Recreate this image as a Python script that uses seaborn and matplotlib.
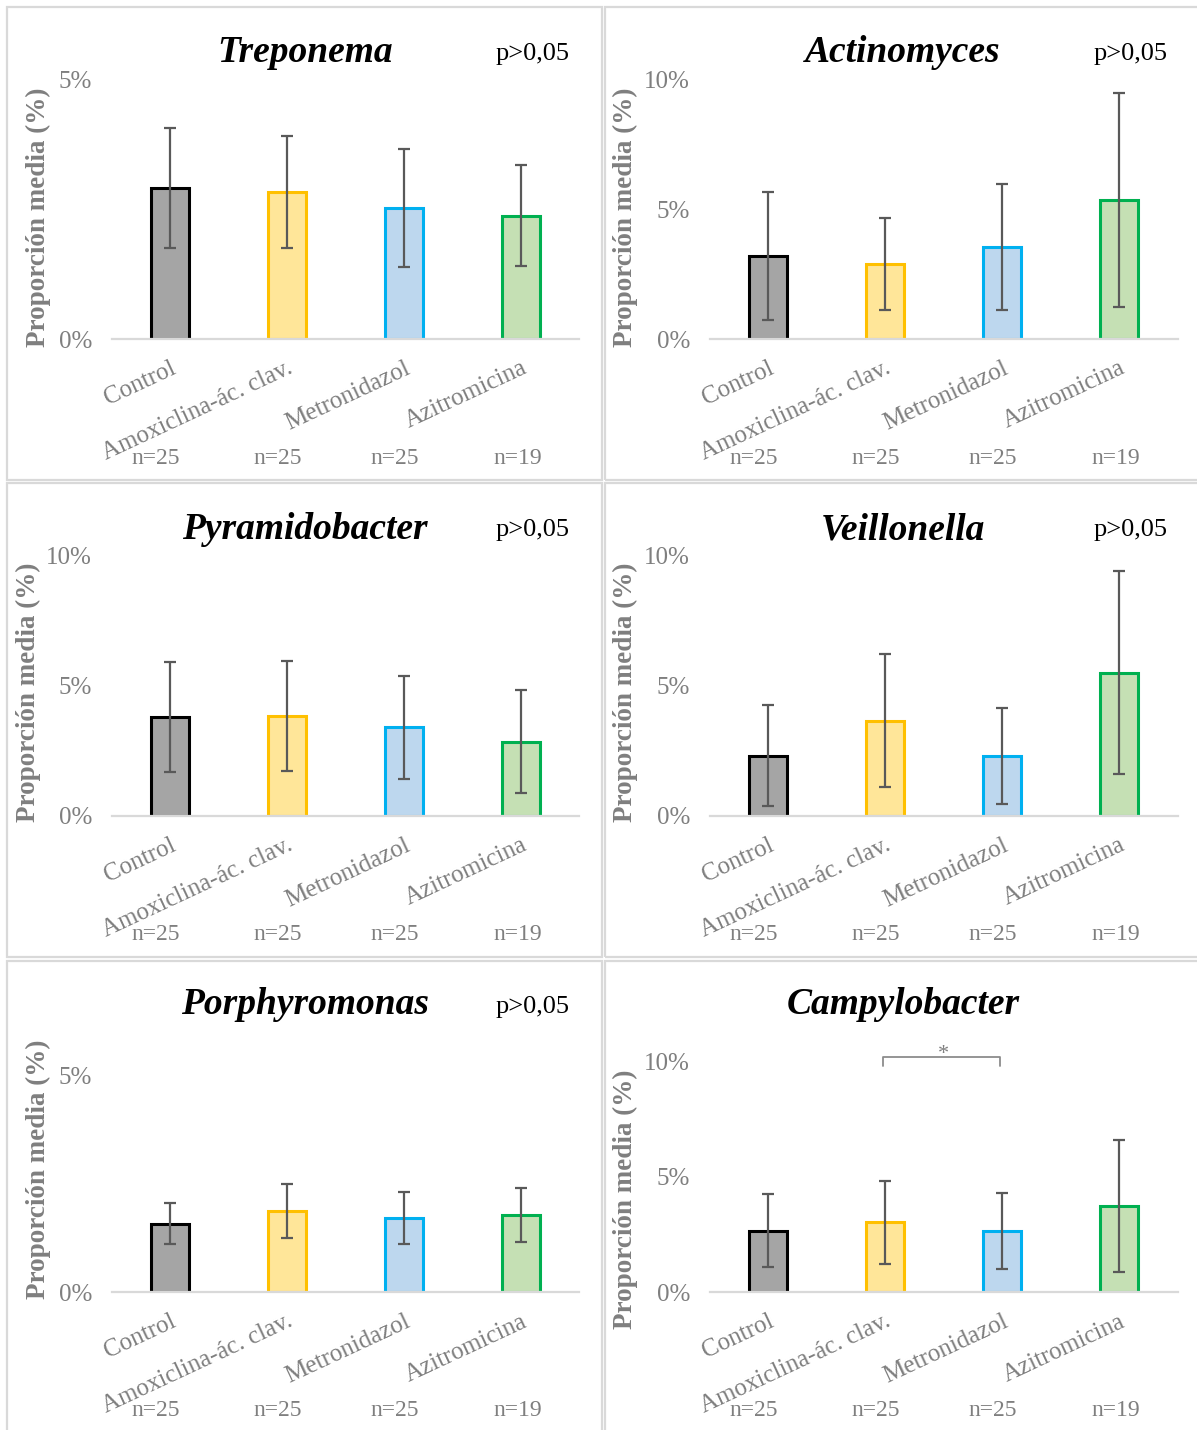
import matplotlib
matplotlib.use("Agg")
import matplotlib.pyplot as plt
import matplotlib.transforms as mtransforms
from matplotlib.patches import Rectangle
from matplotlib.lines import Line2D
import pandas as pd
import seaborn as sns

sns.set_theme(style="white")
plt.rcParams["font.family"] = ["Liberation Serif", "DejaVu Serif"]

# ---- data ---------------------------------------------------------------
groups = ["Control", "Amoxiclina-ác. clav.", "Metronidazol", "Azitromicina"]
n_labels = ["n=25", "n=25", "n=25", "n=19"]
genera = ["Treponema", "Actinomyces", "Pyramidobacter",
          "Veillonella", "Porphyromonas", "Campylobacter"]
p_labels = ["p>0,05", "p>0,05", "p>0,05", "p>0,05", "p>0,05", ""]
y_max = [5, 10, 10, 10, 5, 10]

treponema_mean = [2.90, 2.83, 2.52, 2.37]
treponema_err = [1.15, 1.08, 1.13, 0.97]
actinomyces_mean = [3.19, 2.88, 3.54, 5.35]
actinomyces_err = [2.46, 1.77, 2.42, 4.13]
pyramidobacter_mean = [3.81, 3.85, 3.42, 2.85]
pyramidobacter_err = [2.11, 2.11, 1.98, 1.98]
veillonella_mean = [2.31, 3.67, 2.31, 5.51]
veillonella_err = [1.94, 2.56, 1.85, 3.90]
porphyromonas_mean = [1.59, 1.88, 1.72, 1.78]
porphyromonas_err = [0.48, 0.63, 0.61, 0.62]
campylobacter_mean = [2.67, 3.03, 2.65, 3.72]
campylobacter_err = [1.58, 1.80, 1.63, 2.86]

means = [treponema_mean, actinomyces_mean, pyramidobacter_mean,
         veillonella_mean, porphyromonas_mean, campylobacter_mean]
errors = [treponema_err, actinomyces_err, pyramidobacter_err,
          veillonella_err, porphyromonas_err, campylobacter_err]

# significant pair in Campylobacter (Amoxiclina vs Metronidazol)
sig_pair = (1, 2)

# ---- styling ------------------------------------------------------------
fills = ["#A5A5A5", "#FFE699", "#BDD7EE", "#C5E0B4"]
edges = ["#000000", "#FFC000", "#00B0F0", "#00B050"]
GRAY = "#7F7F7F"
W, H = 1197, 1430

fig = plt.figure(figsize=(W / 100, H / 100), dpi=100)
fig.patch.set_facecolor("white")


def fx(px):
    return px / W


def fy(py):
    return 1 - py / H


# panel frames
col_x = [(6.5, 602), (605, 1199)]
row_y = [(7, 480), (483, 957), (961, 1432)]
for (x0, x1) in col_x:
    for (y0, y1) in row_y:
        fig.patches.append(Rectangle((fx(x0), fy(y1)), (x1 - x0) / W, (y1 - y0) / H,
                                     transform=fig.transFigure, fill=False,
                                     edgecolor="#D9D9D9", linewidth=1.6))

axes_x = [(111.5, 579.5), (709.5, 1177.5)]
axes_y = [(79, 339), (79, 339), (556, 816), (556, 816), (1076, 1292.3), (1061, 1292.3)]
title_x = [305, 903]
title_base = [62, 62, 539, 539, 1014, 1014]
p_x = [533, 1131]
p_base = [60, 60, 536, 536, 1013, 1013]
n_y = [458, 458, 935, 935, 1411, 1411]
n_dx = [-0.12, -0.08, -0.08, -0.03]
ylab_x = [38, 625, 28, 625, 38, 625]
ylab_y = [217, 217, 692, 692, 1169, 1199]

for i, genus in enumerate(genera):
    col, row = i % 2, i // 2
    x0, x1 = axes_x[col]
    top, zero = axes_y[i]
    ax = fig.add_axes([fx(x0), fy(zero), (x1 - x0) / W, (zero - top) / H])
    ax.set_facecolor("none")

    df = pd.DataFrame({"grupo": groups, "valor": means[i]})
    sns.barplot(data=df, x="grupo", y="valor", hue="grupo", palette=fills,
                order=groups, hue_order=groups, width=0.325, linewidth=2.2,
                saturation=1, errorbar=None, legend=False, ax=ax)
    for patch, ec in zip(ax.patches, edges):
        patch.set_edgecolor(ec)
    ax.errorbar(range(len(groups)), means[i], yerr=errors[i], fmt="none",
                ecolor="#595959", elinewidth=1.6, capsize=4.5, capthick=1.6, zorder=5)

    ax.set_xlim(-0.5, 3.5)
    ax.set_ylim(0, y_max[i])
    ticks = list(range(0, y_max[i] + 1, 5))
    ax.set_yticks(ticks)
    ax.set_yticklabels([f"{t}%" for t in ticks])
    ax.set_xticks(range(len(groups)))
    ax.set_xticklabels(groups, rotation=25, ha="right", rotation_mode="anchor")
    ax.tick_params(axis="y", length=0, pad=14, labelsize=18, labelcolor=GRAY)
    ax.tick_params(axis="x", length=0, pad=13, labelsize=18, labelcolor=GRAY)
    ax.set_xlabel("")
    ax.set_ylabel("")
    sns.despine(ax=ax, left=True)
    ax.spines["bottom"].set_color("#D9D9D9")
    ax.spines["bottom"].set_linewidth(1.6)

    ax.text(fx(ylab_x[i]), fy(ylab_y[i]), "Proporción media (%)",
            transform=fig.transFigure, rotation=90, ha="center", va="center",
            fontsize=19.5, fontweight="bold", color=GRAY)

    fig.text(fx(title_x[col]), fy(title_base[i]), genus, ha="center", va="baseline",
             fontsize=27, fontweight="bold", fontstyle="italic", color="black")
    if p_labels[i]:
        fig.text(fx(p_x[col]), fy(p_base[i]), p_labels[i], ha="center", va="baseline",
                 fontsize=19, color="black")

    blend = mtransforms.blended_transform_factory(ax.transData, fig.transFigure)
    for j, lab in enumerate(n_labels):
        ax.text(j + n_dx[j], fy(n_y[i]), lab, transform=blend, ha="center",
                va="center", fontsize=17, color=GRAY)

    if genus == "Campylobacter":
        a, b = sig_pair
        xs = [a - 0.02, a - 0.02, b - 0.02, b - 0.02]
        ys = [9.80, 10.17, 10.17, 9.80]
        ax.add_line(Line2D(xs, ys, color="#8C8C8C", linewidth=1.3, clip_on=False))
        ax.text((a + b) / 2, 10.08, "*", ha="center", va="baseline",
                fontsize=16, color=GRAY, clip_on=False)

fig.savefig("out.png", dpi=100)
